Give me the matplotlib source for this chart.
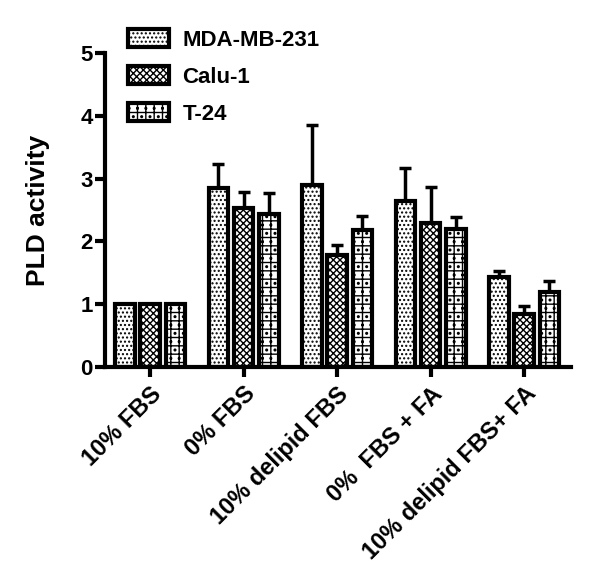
import numpy as np
import matplotlib
matplotlib.use("Agg")
import matplotlib.pyplot as plt

plt.rcParams['font.family'] = ['Liberation Sans', 'DejaVu Sans']
plt.rcParams['font.weight'] = 'bold'
plt.rcParams['hatch.linewidth'] = 1.0

categories = ['10% FBS', '0% FBS', '10% delipid FBS', '0%  FBS + FA', '10% delipid FBS+ FA']
series = ['MDA-MB-231', 'Calu-1', 'T-24']
mda = [1.0, 2.86, 2.9, 2.65, 1.43]
calu = [1.0, 2.54, 1.79, 2.29, 0.85]
t24 = [1.0, 2.43, 2.18, 2.2, 1.19]
mda_err = [0.0, 0.38, 0.96, 0.52, 0.1]
calu_err = [0.0, 0.25, 0.15, 0.58, 0.12]
t24_err = [0.0, 0.35, 0.22, 0.19, 0.18]
hatches = ['....', 'xxxxx', '+.+.']

fig = plt.figure(figsize=(6.01, 5.78), dpi=100)
ax = fig.add_axes([0.175, 0.365, 0.775, 0.543])

x = np.arange(len(categories))
step = 0.27
width = 0.21
handles = []
for i, (vals, errs) in enumerate(zip([mda, calu, t24], [mda_err, calu_err, t24_err])):
    pos = x + (i - 1) * step
    ax.errorbar(pos, vals, yerr=[np.zeros(len(vals)), errs], fmt='none',
                ecolor='black', elinewidth=2.5, capsize=4, capthick=2.5, zorder=1)
    b = ax.bar(pos, vals, width, color='white', edgecolor='black',
               linewidth=3, hatch=hatches[i], zorder=2, label=series[i])
    handles.append(b)

ax.set_xlim(-0.48, 4.5)
ax.set_ylim(0, 5)
ax.set_yticks([0, 1, 2, 3, 4, 5])
ax.set_xticks(x)
ax.set_xticklabels(categories, rotation=45, ha='right', rotation_mode='anchor',
                   fontsize=17, fontweight='bold')
ax.tick_params(axis='y', labelsize=16, width=3, length=7, pad=2)
ax.tick_params(axis='x', width=3, length=7, pad=4)
for lab in ax.get_yticklabels():
    lab.set_fontweight('bold')
ax.set_ylabel('PLD activity', fontsize=19, fontweight='bold', labelpad=22)
for s in ['top', 'right']:
    ax.spines[s].set_visible(False)
for s in ['left', 'bottom']:
    ax.spines[s].set_linewidth(3)

leg = fig.legend(handles=handles, loc='upper left', bbox_to_anchor=(0.18, 0.985),
                 frameon=False, fontsize=16, handlelength=1.85, handleheight=0.9,
                 labelspacing=0.68, handletextpad=0.6)
for t in leg.get_texts():
    t.set_fontweight('bold')

fig.savefig('out.png', dpi=100)
